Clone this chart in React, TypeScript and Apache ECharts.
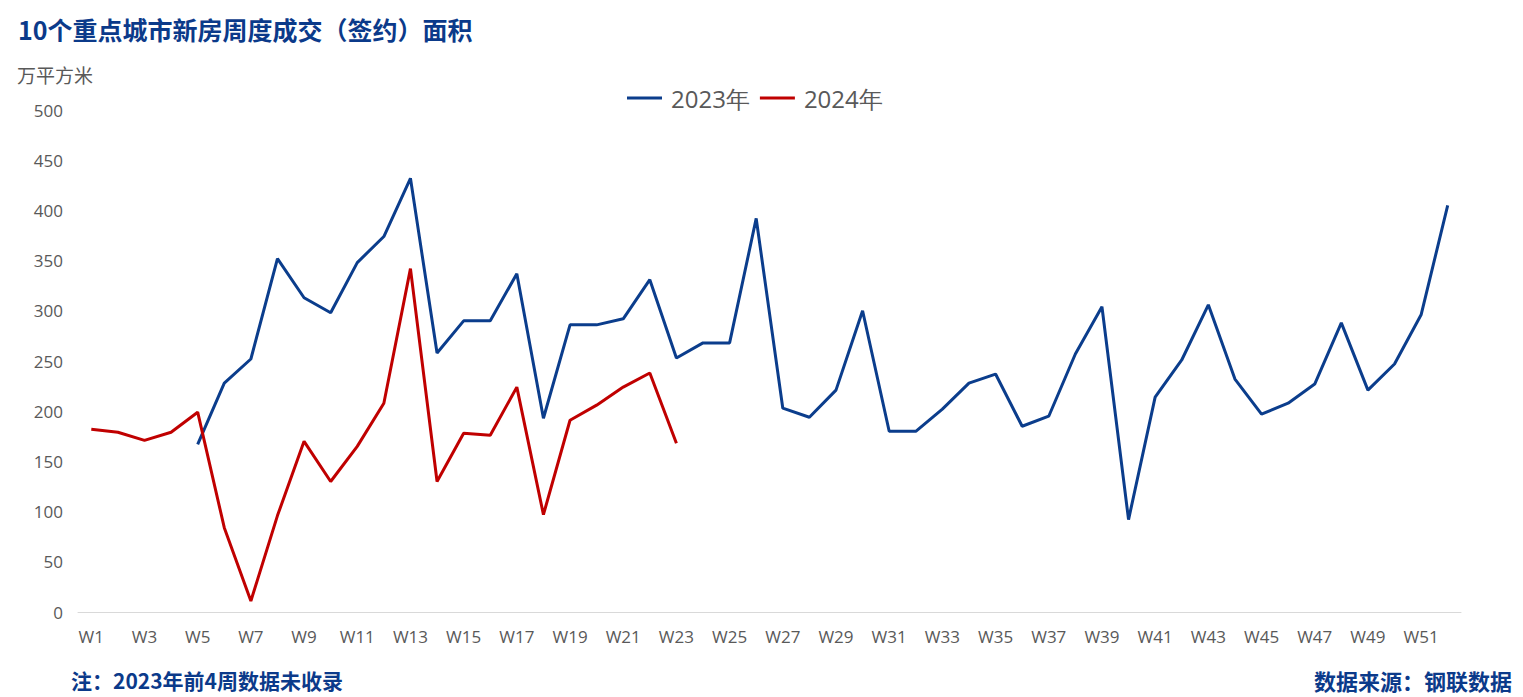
import React, { useEffect, useRef } from "react";
import * as echarts from "echarts";

const weeks: string[] = Array.from({ length: 52 }, (_, i) => `W${i + 1}`);

const series2023: (number | null)[] = [
  null, null, null, null, 167, 228, 252, 352, 313, 298,
  348, 374, 432, 258, 290, 290, 337, 193, 286, 286,
  292, 331, 253, 268, 268, 392, 203, 194, 221, 300,
  180, 180, 202, 228, 237, 185, 195, 257, 304, 92,
  214, 251, 306, 232, 197, 208, 227, 288, 221, 247,
  296, 405,
];

const series2024: number[] = [
  182, 179, 171, 179, 199, 84, 11, 96, 170, 130,
  165, 208, 342, 130, 178, 176, 224, 97, 191, 206,
  224, 238, 168,
];

const titleText = "10个重点城市新房周度成交（签约）面积";
const unitText = "万平方米";
const noteText = "注：2023年前4周数据未收录";
const sourceText = "数据来源：钢联数据";

export default function App() {
  const ref = useRef<HTMLDivElement>(null);
  useEffect(() => {
    if (!ref.current) return;
    const chart = echarts.init(ref.current, undefined, { renderer: "svg" });
    const cjk = "'Noto Sans CJK SC', 'Noto Sans', sans-serif";
    const latin = "'Open Sans', 'Noto Sans', sans-serif";
    chart.setOption({
      animation: false,
      backgroundColor: "#ffffff",
      title: [
        {
          text: titleText,
          left: 13,
          top: 11,
          textStyle: { fontFamily: cjk, fontSize: 25, fontWeight: "bold", color: "#0b3a8a" },
        },
        {
          text: unitText,
          left: 12,
          top: 60,
          textStyle: { fontFamily: cjk, fontSize: 19, fontWeight: "normal", color: "#595959" },
        },
        {
          text: noteText,
          left: 66,
          top: 664,
          textStyle: { fontFamily: cjk, fontSize: 21, fontWeight: "bold", color: "#0b3a8a" },
        },
        {
          text: sourceText,
          right: 6,
          top: 664,
          textStyle: { fontFamily: cjk, fontSize: 22, fontWeight: "bold", color: "#0b3a8a" },
        },
      ],
      legend: {
        top: 81,
        left: 622,
        itemWidth: 35,
        itemHeight: 3,
        itemGap: 10,
        icon: "rect",
        textStyle: { fontFamily: latin, fontSize: 24, color: "#595959", padding: [0, 0, 0, 4] },
        data: ["2023年", "2024年"],
      },
      grid: { left: 78, right: 62, top: 110, bottom: 85, containLabel: false },
      xAxis: {
        type: "category",
        data: weeks,
        boundaryGap: true,
        axisLine: { show: true, lineStyle: { color: "#d9d9d9", width: 1 } },
        axisTick: { show: false },
        axisLabel: {
          interval: 1,
          color: "#595959",
          fontSize: 17,
          fontFamily: latin,
          margin: 16,
        },
      },
      yAxis: {
        type: "value",
        min: 0,
        max: 500,
        interval: 50,
        axisLine: { show: false },
        axisTick: { show: false },
        splitLine: { show: false },
        axisLabel: {
          color: "#595959",
          fontSize: 17,
          fontFamily: latin,
          margin: 15,
        },
      },
      series: [
        {
          name: "2023年",
          type: "line",
          data: series2023,
          showSymbol: false,
          symbol: "none",
          lineStyle: { color: "#0b3d8c", width: 3 },
          itemStyle: { color: "#0b3d8c" },
        },
        {
          name: "2024年",
          type: "line",
          data: series2024,
          showSymbol: false,
          symbol: "none",
          lineStyle: { color: "#c00000", width: 3 },
          itemStyle: { color: "#c00000" },
        },
      ],
    });
    return () => chart.dispose();
  }, []);
  return (
    <div
      ref={ref}
      style={{ position: "fixed", left: 0, top: 0, width: 1523, height: 697 }}
    />
  );
}
